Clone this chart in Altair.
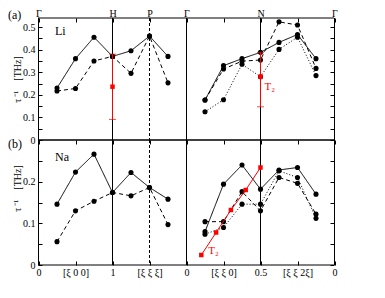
import altair as alt
import pandas as pd

FONT = "Liberation Serif"

# ---------------- data ----------------
# x positions: 0..4 = Γ-H-P-Γ path, 4..8 = Γ-N-Γ path
x_left = [0.5, 1.0, 1.5, 2.0, 2.5, 3.0, 3.5]
x_right = [4.5, 5.0, 5.5, 6.0, 6.5, 7.0, 7.5]

li_solid_left = [0.230, 0.360, 0.455, 0.370, 0.395, 0.460, 0.370]
li_dashed_left = [0.217, 0.228, 0.350, 0.370, 0.295, 0.460, 0.253]
li_solid_right = [0.177, 0.329, 0.360, 0.388, 0.432, 0.467, 0.360]
li_dashed_right = [0.177, 0.314, 0.349, 0.354, 0.523, 0.509, 0.317]
li_dotted_right = [0.125, 0.178, 0.335, 0.280, 0.401, 0.455, 0.285]

na_solid_left = [0.146, 0.223, 0.266, 0.174, 0.222, 0.186, 0.158]
na_dashed_left = [0.056, 0.130, 0.153, 0.174, 0.166, 0.186, 0.097]
na_solid_right = [0.080, 0.194, 0.240, 0.182, 0.228, 0.234, 0.170]
na_dashed_right = [0.104, 0.104, 0.176, 0.130, 0.210, 0.196, 0.122]
na_dotted_right = [0.074, 0.090, 0.146, 0.146, 0.226, 0.210, 0.112]

# experiment (red)
li_exp_x = [2.0, 6.0]
li_exp_y = [0.236, 0.280]
li_exp_lo = [0.091, 0.147]
li_exp_hi = [0.380, 0.388]

na_exp_x = [4.4, 4.8, 5.2, 5.6, 6.0]
na_exp_y = [0.024, 0.078, 0.132, 0.180, 0.234]

# vertical lines: frame edges, symmetry points, panel divider
sym_x = [0.0, 2.0, 3.0, 4.0, 6.0, 8.0]
sym_style = ["solid", "solid", "vdash", "solid", "solid", "solid"]

tick_x = [0, 1, 2, 3, 4, 5, 6, 7, 8]
top_labels = ["Γ", "", "H", "P", "Γ", "", "N", "", "Γ"]
bottom_labels = ["0", "[ξ 0 0]", "1", "[ξ ξ ξ]", "0", "[ξ ξ 0]", "0.5", "[ξ ξ 2ξ]", "0"]

li_yticks = [0, 0.05, 0.1, 0.15, 0.2, 0.25, 0.3, 0.35, 0.4, 0.45, 0.5]
na_yticks = [0, 0.05, 0.1, 0.15, 0.2, 0.25]
li_ydom = [0, 0.54]
na_ydom = [0, 0.3]

y_title = "τ\u2009⁻¹\u2003[THz]"


# ---------------- helpers ----------------
def long_df(x, series):
    rows = []
    for key, style, ys in series:
        for xi, yi in zip(x, ys):
            rows.append({"x": xi, "y": yi, "line": key, "style": style})
    return pd.DataFrame(rows)


def js_list(items):
    return "[" + ",".join("'" + s + "'" for s in items) + "]"


top_expr = js_list(top_labels) + "[round(datum.value)]"
bottom_expr = js_list(bottom_labels) + "[round(datum.value)]"
y_expr = "round(datum.value*20) % 2 == 0 ? '' + round(datum.value*10)/10 : ''"

dash_scale = alt.Scale(domain=["solid", "dashed", "dotted", "vdash"],
                       range=[[1, 0], [4, 3], [1, 2], [3, 2]])

li_df = pd.concat([
    long_df(x_left, [("sL", "solid", li_solid_left), ("dL", "dashed", li_dashed_left)]),
    long_df(x_right, [("sR", "solid", li_solid_right), ("dR", "dashed", li_dashed_right),
                      ("oR", "dotted", li_dotted_right)]),
], ignore_index=True)

na_df = pd.concat([
    long_df(x_left, [("sL", "solid", na_solid_left), ("dL", "dashed", na_dashed_left)]),
    long_df(x_right, [("sR", "solid", na_solid_right), ("dR", "dashed", na_dashed_right),
                      ("oR", "dotted", na_dotted_right)]),
], ignore_index=True)

sym_df = pd.DataFrame({"x": sym_x, "style": sym_style})


def make_row(df, ydom, yvals, title_y, top_lab, bottom_lab, panel, panel_y, name, name_y, extra):
    xs = alt.Scale(domain=[0, 8], nice=False, zero=False, range=[0.5, 296.5])
    ys = alt.Scale(domain=ydom, nice=False, zero=False)

    def X(field="x", axis=None):
        return alt.X(f"{field}:Q", scale=xs, axis=axis)

    def Y(field="y", axis=None):
        return alt.Y(f"{field}:Q", scale=ys, axis=axis)

    top_axis = alt.Axis(orient="top", values=tick_x, offset=-4, tickSize=4,
                        labelPadding=0, labels=top_lab, labelExpr=top_expr,
                        domain=False, grid=False, title=None, labelFlush=False,
                        labelOverlap=False, labelFontSize=10)
    left_axis = alt.Axis(orient="left", values=yvals, offset=-4, tickSize=4,
                         labelPadding=3, labelExpr=y_expr, domain=False, grid=False,
                         title=y_title, titleX=-21.5, titleY=title_y, titleAngle=270,
                         titleBaseline="alphabetic", titleAlign="center",
                         titleFontSize=10, titleFontWeight="normal",
                         labelFlush=False, labelOverlap=False, labelFontSize=10)
    bottom_axis = None
    if bottom_lab:
        bottom_axis = alt.Axis(orient="bottom", values=tick_x, offset=-4, tickSize=4,
                               labelPadding=2, labelExpr=bottom_expr, domain=False,
                               grid=False, title=None, labelFlush=False,
                               labelOverlap=False, labelFontSize=10)
    right_axis = alt.Axis(orient="right", values=yvals, offset=-4, tickSize=4,
                          labels=False, domain=False, grid=False, title=None)

    base = alt.Chart(df)
    carrier_a = base.mark_point(opacity=0).encode(x=X(axis=top_axis), y=Y(axis=left_axis))
    carrier_b = base.mark_point(opacity=0).encode(x=X(axis=bottom_axis), y=Y(axis=right_axis))

    vrules = alt.Chart(sym_df).mark_rule(color="black", strokeWidth=1).encode(
        x=X(), strokeDash=alt.StrokeDash("style:N", scale=dash_scale, legend=None))
    hrules = alt.Chart(pd.DataFrame({"y": ydom})).mark_rule(color="black", strokeWidth=1).encode(
        y=Y())

    lines = base.mark_line(color="black", strokeWidth=1).encode(
        x=X(), y=Y(), detail="line:N",
        strokeDash=alt.StrokeDash("style:N", scale=dash_scale, legend=None))
    pts = base.mark_circle(color="black", size=26, opacity=1).encode(x=X(), y=Y())

    labels = alt.Chart(pd.DataFrame({"t": [panel]})).mark_text(
        align="left", baseline="alphabetic", fontSize=12, color="black").encode(
        text="t:N", x=alt.value(-30), y=alt.value(panel_y))
    nm = alt.Chart(pd.DataFrame({"t": [name]})).mark_text(
        align="left", baseline="alphabetic", fontSize=12, color="black").encode(
        text="t:N", x=alt.value(17), y=alt.value(name_y))

    layers = [carrier_a, carrier_b, hrules, vrules, lines, pts] + extra(X, Y) + [labels, nm]
    return alt.layer(*layers).resolve_axis(x="independent", y="independent")


RED = "#ff0000"


def li_extra(X, Y):
    e = pd.DataFrame({"x": li_exp_x, "y": li_exp_y, "lo": li_exp_lo, "hi": li_exp_hi})
    caps = pd.DataFrame({"x": li_exp_x + li_exp_x, "y": li_exp_lo + li_exp_hi})
    bar = alt.Chart(e).mark_rule(color=RED, strokeWidth=1).encode(x=X(), y=Y("lo"), y2="hi:Q")
    cap = alt.Chart(caps).mark_tick(color=RED, orient="horizontal", size=7, thickness=1).encode(x=X(), y=Y())
    sq = alt.Chart(e).mark_square(color=RED, size=20, opacity=1).encode(x=X(), y=Y())
    lab = alt.Chart(pd.DataFrame({"x": [li_exp_x[1]], "y": [li_exp_y[1]], "t": ["T₂"]})).mark_text(
        color=RED, align="left", baseline="alphabetic", fontSize=11, dx=4, dy=13).encode(
        x=X(), y=Y(), text="t:N")
    return [bar, cap, sq, lab]


def na_extra(X, Y):
    e = pd.DataFrame({"x": na_exp_x, "y": na_exp_y})
    ln = alt.Chart(e).mark_line(color=RED, strokeWidth=1).encode(x=X(), y=Y())
    sq = alt.Chart(e).mark_square(color=RED, size=20, opacity=1).encode(x=X(), y=Y())
    lab = alt.Chart(pd.DataFrame({"x": [na_exp_x[0]], "y": [na_exp_y[0]], "t": ["T₂"]})).mark_text(
        color=RED, align="left", baseline="alphabetic", fontSize=11, dx=7, dy=-1).encode(
        x=X(), y=Y(), text="t:N")
    return [ln, sq, lab]


top = make_row(li_df, li_ydom, li_yticks, 61, True, False, "(a)", 1, "Li", 17,
               li_extra).properties(width=296, height=122)
bottom = make_row(na_df, na_ydom, na_yticks, 48, False, True, "(b)", 8, "Na", 21,
                  na_extra).properties(width=296, height=125)

chart = alt.vconcat(top, bottom, spacing=0, bounds="flush").properties(
    padding={"left": 0, "top": 0, "right": 5, "bottom": 5}
).configure_view(stroke=None).configure_axis(
    labelFont=FONT, titleFont=FONT, labelColor="black", tickColor="black",
    titleColor="black", tickWidth=1
).configure_text(font=FONT)

chart.save("out.html", embed_options={"renderer": "svg", "actions": False})
